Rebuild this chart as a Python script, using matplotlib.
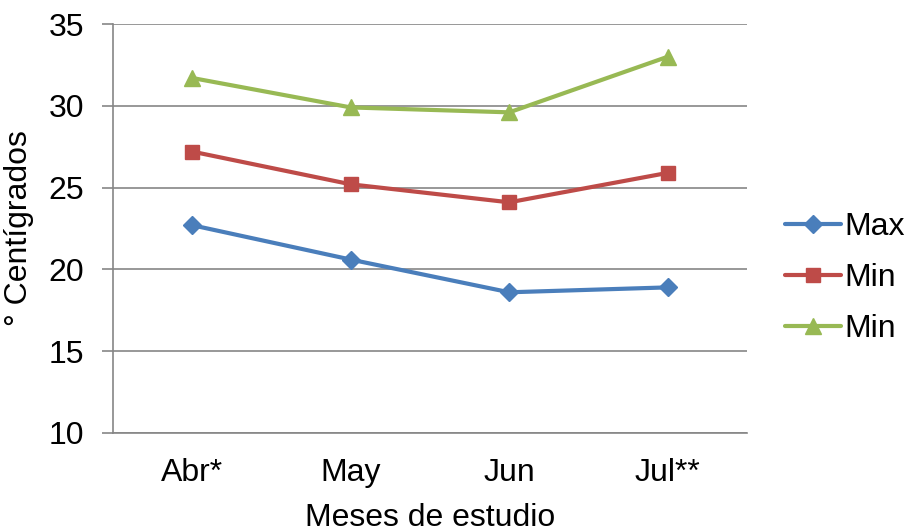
import matplotlib
matplotlib.use("Agg")
import matplotlib.pyplot as plt
import numpy as np

plt.rcParams["font.family"] = ["Liberation Sans", "DejaVu Sans"]

months = ["Abr*", "May", "Jun", "Jul**"]
temp_max = [22.7, 20.6, 18.6, 18.9]
temp_min = [27.2, 25.2, 24.1, 25.9]
temp_min2 = [31.7, 29.9, 29.6, 33.0]

SERIES = [
    ("Max", temp_max, "#4A7EBB", "D", 9),
    ("Min", temp_min, "#BE4B48", "s", 10),
    ("Min", temp_min2, "#98B954", "^", 11),
]

FS = 23

fig = plt.figure(figsize=(9.1, 5.31), dpi=100)
ax = fig.add_axes([0.1242, 0.1846, 0.8209 - 0.1242, 0.9548 - 0.1846])

x = np.arange(len(months))
for label, vals, color, marker, ms in SERIES:
    ax.plot(x, vals, color=color, lw=3, marker=marker, ms=ms,
            markeredgecolor=color, label=label, solid_capstyle="round")

ax.set_xlim(-0.5, len(months) - 0.5)
ax.set_ylim(10, 35)
ax.set_yticks(range(10, 36, 5))
ax.set_xticks(x)
ax.set_xticklabels(months)
ax.yaxis.grid(True, color="#868686", lw=1.2)
ax.set_axisbelow(True)

for side in ["top", "right"]:
    ax.spines[side].set_visible(False)
for side in ["left", "bottom"]:
    ax.spines[side].set_color("#868686")
    ax.spines[side].set_linewidth(1.2)

ax.tick_params(axis="y", length=8, width=1.2, color="#868686", labelsize=FS, pad=13)
ax.tick_params(axis="x", length=0, labelsize=FS, pad=18)

ax.set_xlabel("Meses de estudio", fontsize=FS)
ax.xaxis.set_label_coords(0.5, -0.17)
ax.set_ylabel("° Centígrados", fontsize=FS)
ax.yaxis.set_label_coords(-0.125, 0.5)

ax.legend(loc="center left", bbox_to_anchor=(1.0, 0.379), frameon=False,
          fontsize=FS, handlelength=1.75, handletextpad=0.1, labelspacing=0.65,
          borderaxespad=0.8)

fig.savefig("out.png", dpi=100)
